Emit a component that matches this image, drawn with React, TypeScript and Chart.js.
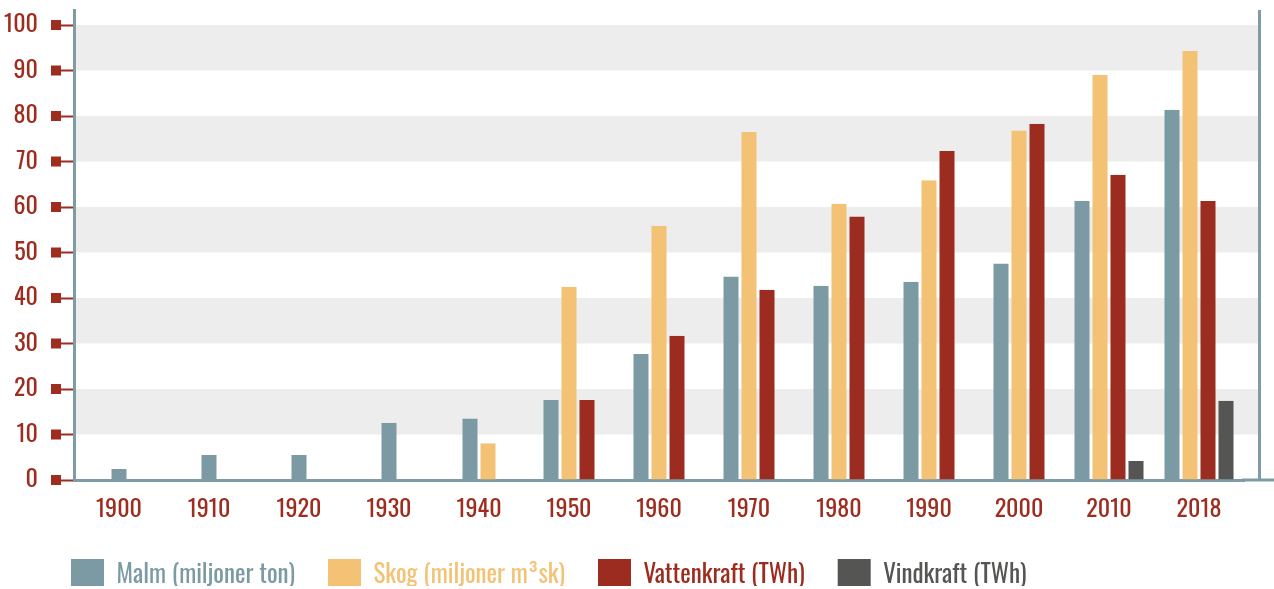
import React, { useEffect, useRef } from 'react';
import { Chart, registerables } from 'chart.js';

Chart.register(...registerables);

const categories = ['1900', '1910', '1920', '1930', '1940', '1950', '1960', '1970', '1980', '1990', '2000', '2010', '2018'];
const malm = [2.4, 5.5, 5.5, 12.6, 13.5, 17.6, 27.7, 44.7, 42.7, 43.6, 47.6, 61.4, 81.4];
const skog = [null, null, null, null, 8.1, 42.5, 55.9, 76.5, 60.7, 65.9, 76.8, 89.0, 94.3];
const vattenkraft = [null, null, null, null, null, 17.6, 31.7, 41.8, 57.9, 72.3, 78.3, 67.1, 61.3];
const vindkraft = [null, null, null, null, null, null, null, null, null, null, null, 4.2, 17.4];
const seriesLabels = ['Malm (miljoner ton)', 'Skog (miljoner m³sk)', 'Vattenkraft (TWh)', 'Vindkraft (TWh)'];
const seriesColors = ['#7b9aa4', '#f3c274', '#9b2c1f', '#555553'];
const yMax = 103.3;
const yStep = 10;

const FONT = "Oswald, 'Roboto Condensed', 'DejaVu Sans Condensed', sans-serif";
const RED = '#9e2d1f';
const AXIS = '#7f9ba4';
const BAND = '#ededed';

const decorPlugin = {
  id: 'decor',
  afterInit(chart: any) {
    const lg = chart.legend;
    if (lg && !lg.__wrapped) {
      const orig = lg.fit.bind(lg);
      lg.fit = () => {
        orig();
        lg.height = 60;
      };
      lg.__wrapped = true;
    }
  },
  afterLayout(chart: any) {
    const lg = chart.legend;
    if (!lg) return;
    const pad = lg.options.labels.padding;
    const dx = 71 - pad - lg.left;
    const dy = 559 - pad - lg.top;
    lg.left += dx;
    lg.right += dx;
    lg.top += dy;
    lg.bottom += dy;
  },
  beforeDraw(chart: any) {
    const { ctx, chartArea, scales } = chart;
    const y = scales.y;
    ctx.save();
    ctx.fillStyle = BAND;
    for (let v = 10; v < 100; v += 20) {
      const top = y.getPixelForValue(v + 10);
      const bot = y.getPixelForValue(v);
      ctx.fillRect(chartArea.left, top, chartArea.right + 14 - chartArea.left, bot - top);
    }
    ctx.restore();
  },
  afterDraw(chart: any) {
    const { ctx, chartArea, scales } = chart;
    const y = scales.y;
    ctx.save();
    ctx.strokeStyle = AXIS;
    ctx.lineWidth = 3;
    ctx.beginPath();
    ctx.moveTo(chartArea.right + 15.5, chartArea.top);
    ctx.lineTo(chartArea.right + 15.5, chartArea.bottom);
    ctx.stroke();
    ctx.beginPath();
    ctx.moveTo(chartArea.right - 2, chartArea.bottom);
    ctx.lineTo(chart.width, chartArea.bottom);
    ctx.stroke();
    ctx.fillStyle = RED;
    y.ticks.forEach((t: any) => {
      const yy = y.getPixelForValue(t.value);
      ctx.fillRect(chartArea.left - 23, yy - 5, 10, 10);
    });
    ctx.restore();
  },
};

export default function App() {
  const ref = useRef<HTMLCanvasElement | null>(null);

  useEffect(() => {
    if (!ref.current) return;
    const seriesData = [malm, skog, vattenkraft, vindkraft];
    const chart = new Chart(ref.current, {
      type: 'bar',
      data: {
        labels: categories,
        datasets: seriesData.map((d, i) => ({
          label: seriesLabels[i],
          data: d as any,
          backgroundColor: seriesColors[i],
          borderColor: 'rgba(0,0,0,0)',
          borderWidth: { left: 1.5, right: 1.5, top: 0, bottom: 0 } as any,
          borderSkipped: false as any,
          inflateAmount: 0,
          barThickness: 18,
          skipNull: true,
        })),
      },
      options: {
        responsive: false,
        animation: false,
        devicePixelRatio: 1,
        layout: { padding: { top: 10, right: 30, left: 0, bottom: 0 } },
        plugins: {
          tooltip: { enabled: false },
          legend: {
            display: true,
            position: 'bottom',
            align: 'start',
            labels: {
              boxWidth: 33,
              boxHeight: 33,
              padding: 33,
              font: { family: FONT, size: 25 },
              generateLabels: (c: any) => {
                const items = (Chart.defaults.plugins.legend.labels as any).generateLabels(c);
                return items.map((it: any, i: number) => ({
                  ...it,
                  fontColor: seriesColors[i],
                  fillStyle: seriesColors[i],
                  strokeStyle: 'rgba(0,0,0,0)',
                  lineWidth: 0,
                }));
              },
            },
          },
        },
        scales: {
          x: {
            type: 'category',
            grid: { display: false, drawTicks: false },
            border: { display: true, color: AXIS, width: 3 },
            ticks: { color: RED, font: { family: FONT, size: 24 }, padding: 15, maxRotation: 0 },
            afterFit: (s: any) => {
              const lh = s.chart.legend ? s.chart.legend.height : 0;
              s.height = 109 - lh;
              s.paddingLeft = 0;
              s.paddingRight = 0;
            },
          },
          y: {
            type: 'linear',
            min: 0,
            max: yMax,
            grid: { display: true, drawOnChartArea: false, drawTicks: true, tickLength: 13, tickWidth: 2, tickColor: RED, color: RED },
            border: { display: true, color: AXIS, width: 3 },
            ticks: { stepSize: yStep, includeBounds: false, color: RED, font: { family: FONT, size: 24 }, padding: 23 },
            afterFit: (s: any) => {
              s.width = 74;
              s.paddingTop = 0;
              s.paddingBottom = 0;
            },
          },
        },
      },
      plugins: [decorPlugin],
    } as any);
    return () => chart.destroy();
  }, []);

  return (
    <div style={{ position: 'fixed', left: 0, top: 0, width: 1274, height: 589 }}>
      <canvas ref={ref} width={1274} height={589} style={{ width: 1274, height: 589, display: 'block' }} />
    </div>
  );
}
